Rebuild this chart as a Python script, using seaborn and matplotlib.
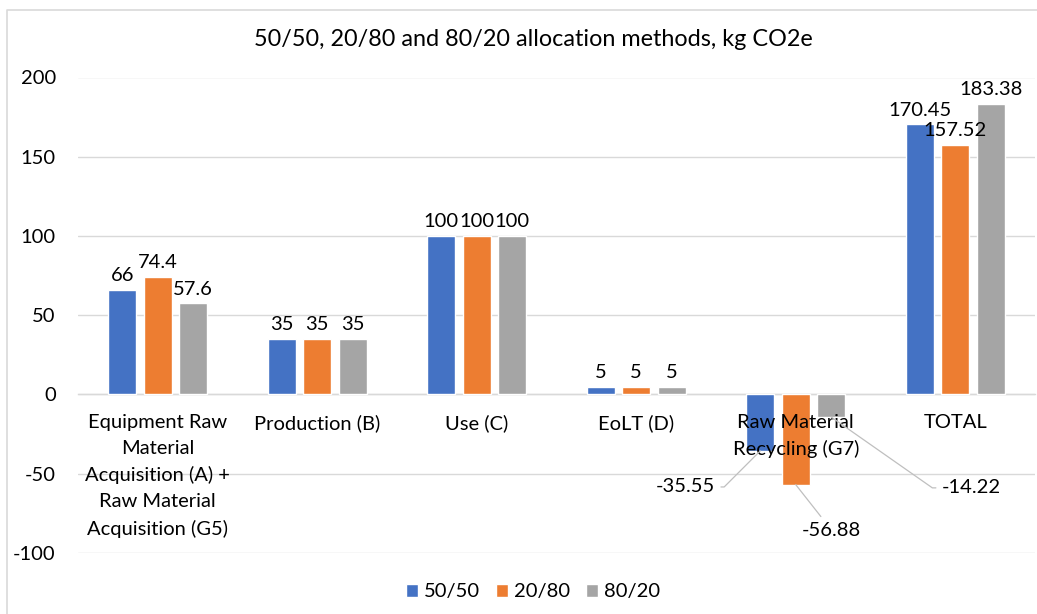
import numpy as np
import pandas as pd
import seaborn as sns
import matplotlib.pyplot as plt
from matplotlib.lines import Line2D

# Emissions per life-cycle stage under three allocation splits (kg CO2e)
categories = [
    "Equipment Raw\nMaterial\nAcquisition (A) +\nRaw Material\nAcquisition (G5)",
    "Production (B)",
    "Use (C)",
    "EoLT (D)",
    "Raw Material\nRecycling (G7)",
    "TOTAL",
]
methods = ["50/50", "20/80", "80/20"]
values_50_50 = [66, 35, 100, 5, -35.55, 170.45]
values_20_80 = [74.4, 35, 100, 5, -56.88, 157.52]
values_80_20 = [57.6, 35, 100, 5, -14.22, 183.38]
y_ticks = [-100, -50, 0, 50, 100, 150, 200]

colors = ["#4472C4", "#ED7D31", "#A5A5A5"]

df = pd.DataFrame({
    "stage": categories * 3,
    "method": [m for m in methods for _ in categories],
    "value": values_50_50 + values_20_80 + values_80_20,
})

sns.set_theme(style="white")
plt.rcParams["font.family"] = ["Lato", "DejaVu Sans"]
text_color = "#000000"
grid_color = "#d9d9d9"
fs = 14.5

fig = plt.figure(figsize=(10.37, 6.14), dpi=100)
ax = fig.add_axes([78 / 1037, 1 - 553 / 614, (1035 - 78) / 1037, (553 - 77.5) / 614])

sns.barplot(
    data=df, x="stage", y="value", hue="method", order=categories,
    hue_order=methods, palette=colors, width=0.667, gap=0.21,
    saturation=1, errorbar=None, ax=ax, legend=True, zorder=2,
)

ax.set_ylim(-100, 200)
ax.set_xlim(-0.5, len(categories) - 0.5)
ax.set_yticks(y_ticks)
ax.set_yticklabels([str(t) for t in y_ticks])
ax.set_xlabel("")
ax.set_ylabel("")
ax.yaxis.grid(True, color=grid_color, linewidth=1.0)
ax.set_axisbelow(True)
# category labels sit on top of the bars that cross them
ax.xaxis.set_zorder(3)
for side in ["left", "right", "top"]:
    ax.spines[side].set_visible(False)
ax.spines["bottom"].set_position(("data", 0))
ax.spines["bottom"].set_color(grid_color)
ax.spines["bottom"].set_linewidth(1.0)
ax.spines["bottom"].set_zorder(0.5)
ax.tick_params(axis="y", length=0, pad=16, labelsize=fs, labelcolor=text_color)
ax.tick_params(axis="x", length=0, pad=14, labelsize=fs, labelcolor=text_color)
for lbl in ax.get_xticklabels():
    lbl.set_linespacing(1.63)
    lbl.set_va("top")

# Value labels: above positive bars, leader-lined callouts for negative ones
neg_offsets = {
    0: ((-54, -26), "angle,angleA=0,angleB=45,rad=0"),
    1: ((26, -33), "arc3"),
    2: ((101, -51), "angle,angleA=0,angleB=-35,rad=0"),
}
series = [values_50_50, values_20_80, values_80_20]
for hi, container in enumerate(ax.containers):
    for bar, val in zip(container.patches, series[hi]):
        cx = bar.get_x() + bar.get_width() / 2
        label = f"{val:g}"
        if val >= 0:
            ax.annotate(label, (cx, val), xytext=(0, 4), textcoords="offset points",
                        ha="center", va="bottom", fontsize=fs, color=text_color,
                        zorder=4)
        else:
            off, conn = neg_offsets[hi]
            ax.annotate(label, (cx, val), xytext=off, textcoords="offset points",
                        ha="center", va="center", fontsize=fs, color=text_color,
                        zorder=4,
                        arrowprops=dict(arrowstyle="-", color="#bfbfbf", lw=0.9,
                                        connectionstyle=conn, shrinkA=2, shrinkB=0))

fig.text(0.514, 1 - 39 / 614, "50/50, 20/80 and 80/20 allocation methods, kg CO2e",
         ha="center", va="center", fontsize=16.8, color=text_color)

handles, labels = ax.get_legend_handles_labels()
ax.get_legend().remove()
fig.legend(handles, labels, loc="center", bbox_to_anchor=(533 / 1037, 1 - 592 / 614),
           ncol=3, frameon=False, fontsize=fs, handlelength=0.6, handleheight=0.6,
           handletextpad=0.3, columnspacing=0.8, labelcolor=text_color)

# Chart-area frame
fig.add_artist(Line2D([7 / 1037, 7 / 1037, 1.0], [0.0, 1 - 10 / 614, 1 - 10 / 614],
                      transform=fig.transFigure, color="#d9d9d9", lw=1.2))

fig.savefig("out.png", dpi=100)
